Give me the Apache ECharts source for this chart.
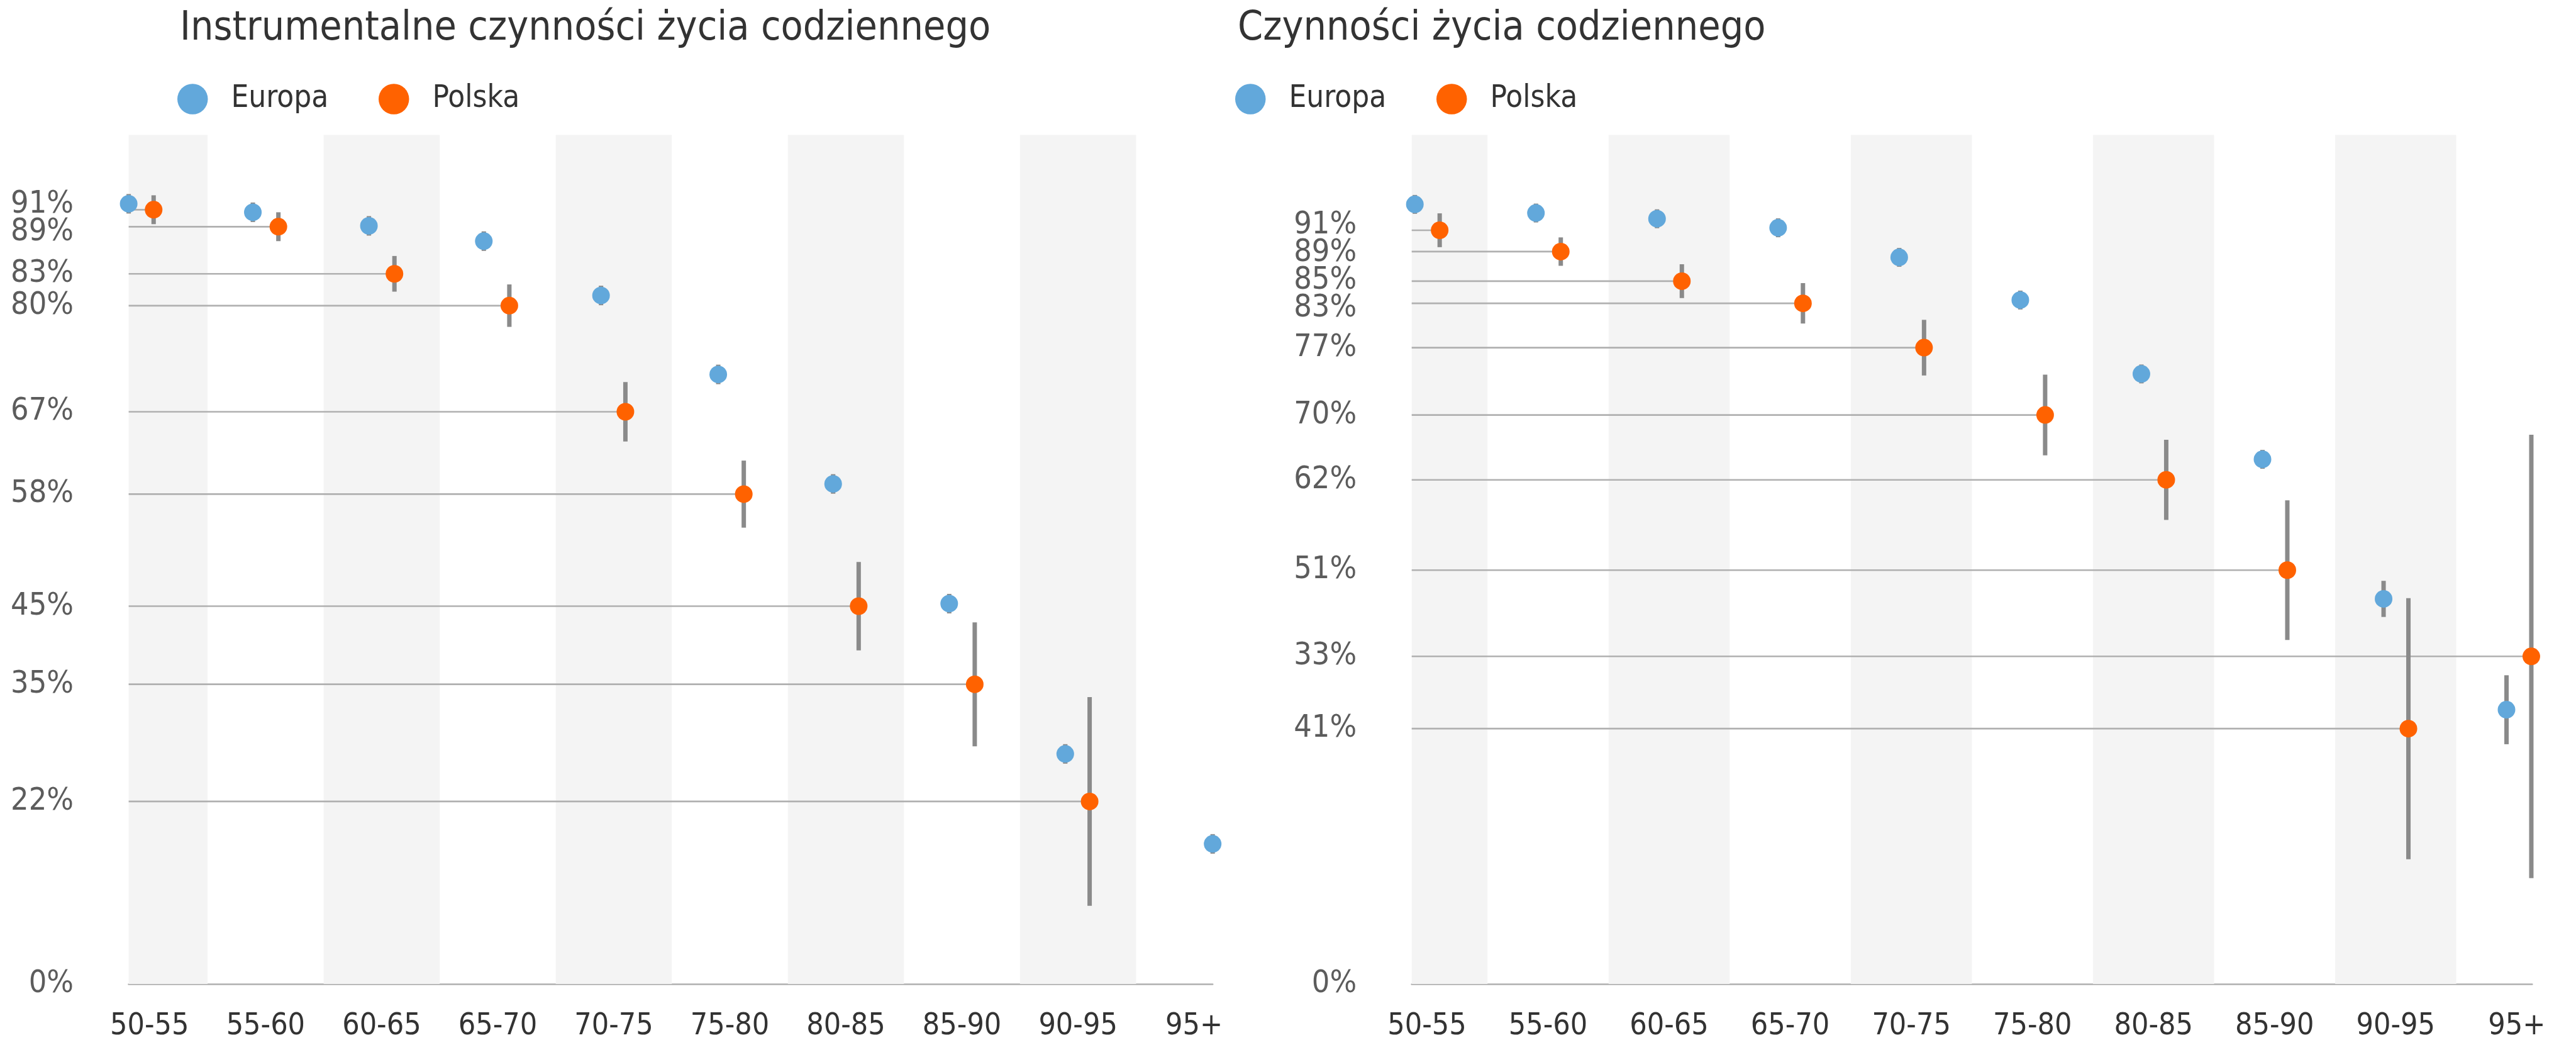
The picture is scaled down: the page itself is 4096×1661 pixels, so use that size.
<!DOCTYPE html>
<html lang="pl">
<head>
<meta charset="UTF-8">
<title>Czynności życia codziennego</title>
<style>
  html, body { margin: 0; padding: 0; background: #fff; }
  #chart { width: 4096px; height: 1661px; }
</style>
</head>
<body>
<div id="chart"></div>
<script src="https://cdn.jsdelivr.net/npm/echarts@6/dist/echarts.min.js"></script>
<script>
// age groups
var categories = ['50-55', '55-60', '60-65', '65-70', '70-75', '75-80', '80-85', '85-90', '90-95', '95+'];

// left panel: instrumental activities (share of people without limitations, %)
var europaIADL = [91.9, 90.9, 89.3, 87.5, 81.1, 71.8, 58.9, 44.8, 27.1, 16.5];
var europaIADLErr = [1.15, 1.15, 1.15, 1.15, 1.15, 1.15, 1.15, 1.15, 1.15, 1.15];
var europaIADLX = [-0.18, 0.89, 1.89, 2.88, 3.89, 4.9, 5.89, 6.89, 7.89, 9.16];
var polskaIADL = [91.2, 89.2, 83.65, 79.9, 67.4, 57.7, 44.5, 35.3, 21.5];
var polskaIADLErr = [1.7, 1.7, 2.1, 2.5, 3.5, 3.95, 5.2, 7.3, 12.3];
var polskaIADLX = [0.035, 1.11, 2.11, 3.1, 4.1, 5.12, 6.11, 7.11, 8.1];
var labelsIADL = ['91%', '89%', '83%', '80%', '67%', '58%', '45%', '35%', '22%'];

// right panel: activities of daily living
var europaADL = [94.95, 93.9, 93.2, 92.1, 88.5, 83.3, 74.3, 63.9, 46.9, 33.4];
var europaADLErr = [1.15, 1.15, 1.15, 1.15, 1.15, 1.15, 1.15, 1.15, 2.2, 4.2];
var europaADLX = [-0.1, 0.9, 1.9, 2.9, 3.9, 4.9, 5.9, 6.9, 7.9, 8.915];
var polskaADL = [91.8, 89.2, 85.6, 82.9, 77.5, 69.3, 61.4, 50.4, 31.1, 39.9];
var polskaADLErr = [2.06, 1.73, 2.06, 2.46, 3.39, 4.92, 4.88, 8.5, 15.9, 27];
var polskaADLX = [0.105, 1.105, 2.105, 3.105, 4.105, 5.105, 6.105, 7.105, 8.105, 9.12];
var labelsADL = ['91%', '89%', '85%', '83%', '77%', '70%', '62%', '51%', '41%', '33%'];

var zeroLabel = '0%';

var FONT = "'Liberation Sans Narrow', 'DejaVu Sans Condensed', sans-serif";
var BLUE = '#62a8db';
var ORANGE = '#ff6200';
var TEXT = '#333333';
var GRID_H = 1349.4;
var LABEL_GAP = 44;   // px between stacked value labels

var chart = echarts.init(document.getElementById('chart'));

function lineSeg(p0, p1, color, width) {
    return {
        type: 'line',
        shape: { x1: p0[0], y1: p0[1], x2: p1[0], y2: p1[1] },
        style: { stroke: color, lineWidth: width, lineCap: 'butt' }
    };
}

// push labels apart (in value units) so they do not overlap, like the spreadsheet does
function spreadLabels(values, minGap) {
    var pos = values.slice();
    var order = pos.map(function (v, i) { return i; }).sort(function (a, b) { return pos[b] - pos[a]; });
    for (var it = 0; it < 60; it++) {
        for (var j = 0; j < order.length - 1; j++) {
            var a = order[j], b = order[j + 1];
            var d = pos[a] - pos[b];
            if (d < minGap) {
                var fix = (minGap - d) / 2;
                pos[a] += fix;
                pos[b] -= fix;
            }
        }
    }
    return pos;
}

function panelSeries(k, xMin, xMax, yMax, eu, euErr, euX, pl, plErr, plX, labels) {
    var idx = { xAxisIndex: k, yAxisIndex: k };
    var bandData = [];
    categories.forEach(function (c, i) { if (i % 2 === 0) bandData.push([i, 0]); });
    var plData = pl.map(function (v, i) { return [plX[i], v, plErr[i]]; });
    var euData = eu.map(function (v, i) { return [euX[i], v, euErr[i]]; });
    var labelPos = spreadLabels(pl.concat([0]), LABEL_GAP * yMax / GRID_H);
    var labelData = labelPos.map(function (v) { return [xMin, v]; });
    var labelText = labels.concat([zeroLabel]);

    var errRender = function (params, api) {
        var x = api.value(0), y = api.value(1), e = api.value(2);
        return lineSeg(api.coord([x, y + e]), api.coord([x, y - e]), '#8a8a8a', 7);
    };

    return [
        Object.assign({
            type: 'custom', z: 1, silent: true, data: bandData,
            renderItem: function (params, api) {
                var i = api.value(0);
                var a = api.coord([Math.max(i - 0.5, xMin), yMax]);
                var b = api.coord([Math.min(i + 0.5, xMax), 0]);
                return { type: 'rect', shape: { x: a[0], y: a[1], width: b[0] - a[0], height: b[1] - a[1] },
                         style: { fill: '#f4f4f4' } };
            }
        }, idx),
        Object.assign({
            type: 'custom', z: 2, silent: true, data: plData,
            renderItem: function (params, api) {
                var y = api.value(1);
                return lineSeg(api.coord([xMin, y]), api.coord([api.value(0), y]), '#b0b0b0', 2.6);
            }
        }, idx),
        Object.assign({ type: 'custom', z: 3, silent: true, data: euData, renderItem: errRender }, idx),
        Object.assign({ type: 'custom', z: 3, silent: true, data: plData, renderItem: errRender }, idx),
        Object.assign({
            name: 'Europa', type: 'scatter', z: 4, symbolSize: 28,
            itemStyle: { color: BLUE, opacity: 1 }, data: euData.map(function (d) { return [d[0], d[1]]; })
        }, idx),
        Object.assign({
            name: 'Polska', type: 'scatter', z: 4, symbolSize: 28,
            itemStyle: { color: ORANGE, opacity: 1 }, data: plData.map(function (d) { return [d[0], d[1]]; })
        }, idx),
        Object.assign({
            type: 'scatter', z: 5, symbolSize: 1, silent: true,
            itemStyle: { color: 'rgba(0,0,0,0)' }, data: labelData,
            label: {
                show: true, position: 'left', distance: 87,
                fontFamily: FONT, fontSize: 50, color: TEXT,
                formatter: function (p) { return labelText[p.dataIndex]; }
            }
        }, idx)
    ];
}

var ranges = [
    { xMin: -0.18, xMax: 9.16, yMax: 100 },
    { xMin: -0.126, xMax: 9.127, yMax: 103.4 }
];

function xAxis(k) {
    return {
        type: 'value', gridIndex: k, min: ranges[k].xMin, max: ranges[k].xMax,
        splitLine: { show: false }, axisTick: { show: false },
        axisLine: { show: true, onZero: false, lineStyle: { color: '#b0b0b0', width: 2.6 } },
        axisLabel: {
            customValues: categories.map(function (c, i) { return i; }),
            formatter: function (v) { return categories[Math.round(v)]; },
            margin: 44, fontFamily: FONT, fontSize: 48, color: TEXT
        }
    };
}

function yAxis(k) {
    return { type: 'value', gridIndex: k, min: 0, max: ranges[k].yMax, show: false };
}

var legendBase = {
    icon: 'circle', itemWidth: 48.5, itemHeight: 48.5, top: 133, padding: 0,
    selectedMode: false,
    textStyle: { fontFamily: FONT, fontSize: 49, color: TEXT, padding: [0, 0, 0, 32] }
};

var option = {
    animation: false,
    backgroundColor: '#ffffff',
    title: [
        { text: 'Instrumentalne czynności życia codziennego', left: 286, top: 14, padding: 0,
          textStyle: { fontFamily: FONT, fontSize: 64, fontWeight: 'normal', color: TEXT } },
        { text: 'Czynności życia codziennego', left: 1968, top: 14, padding: 0,
          textStyle: { fontFamily: FONT, fontSize: 64, fontWeight: 'normal', color: TEXT } }
    ],
    legend: [
        Object.assign({}, legendBase, { data: ['Europa'], left: 282 }),
        Object.assign({}, legendBase, { data: ['Polska'], left: 602 }),
        Object.assign({}, legendBase, { data: ['Europa'], left: 1964 }),
        Object.assign({}, legendBase, { data: ['Polska'], left: 2284 })
    ],
    grid: [
        { left: 204.6, top: 214.6, width: 1723.6, height: GRID_H },
        { left: 2244.7, top: 214.6, width: 1781.6, height: GRID_H }
    ],
    xAxis: [xAxis(0), xAxis(1)],
    yAxis: [yAxis(0), yAxis(1)],
    series: panelSeries(0, ranges[0].xMin, ranges[0].xMax, ranges[0].yMax,
                        europaIADL, europaIADLErr, europaIADLX, polskaIADL, polskaIADLErr, polskaIADLX, labelsIADL)
        .concat(panelSeries(1, ranges[1].xMin, ranges[1].xMax, ranges[1].yMax,
                        europaADL, europaADLErr, europaADLX, polskaADL, polskaADLErr, polskaADLX, labelsADL))
};

chart.setOption(option);
</script>
</body>
</html>
